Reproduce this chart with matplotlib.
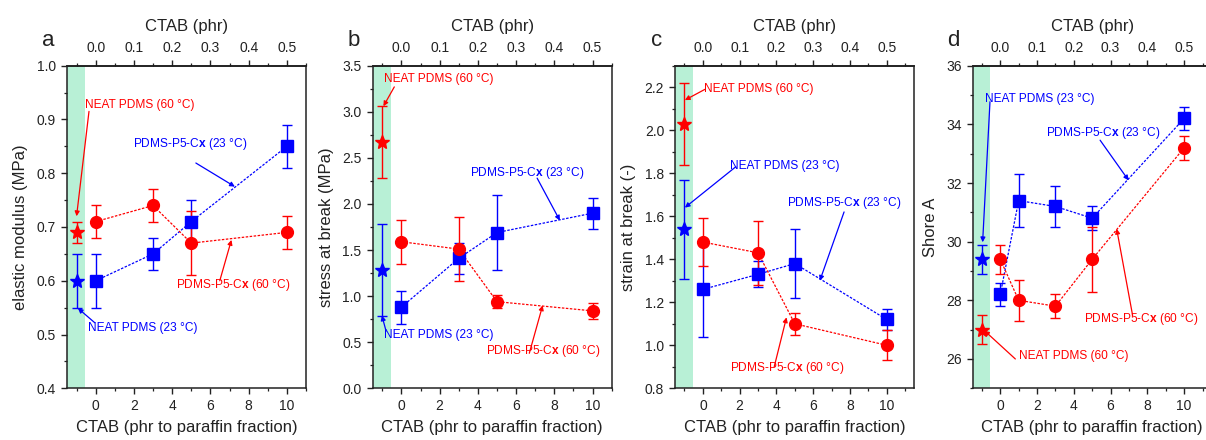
import matplotlib
matplotlib.use("Agg")
import matplotlib.pyplot as plt
from matplotlib.ticker import MultipleLocator, FormatStrFormatter

plt.rcParams['font.family'] = ['Liberation Sans', 'DejaVu Sans']
plt.rcParams['mathtext.fontset'] = 'custom'
plt.rcParams['mathtext.rm'] = 'Liberation Sans'
plt.rcParams['mathtext.bf'] = 'Liberation Sans:bold'
plt.rcParams['mathtext.it'] = 'Liberation Sans:italic'

# ---------------- data ----------------
x4 = [0, 3, 5, 10]
x5 = [0, 1, 3, 5, 10]
x_neat = [-1]

# (a) elastic modulus
a_blue = [0.60, 0.65, 0.71, 0.85]
a_blue_err = [0.05, 0.03, 0.04, 0.04]
a_red = [0.71, 0.74, 0.67, 0.69]
a_red_err = [0.03, 0.03, 0.06, 0.03]
a_neat23, a_neat23_err = 0.60, 0.05
a_neat60, a_neat60_err = 0.69, 0.02

# (b) stress at break
b_blue = [0.88, 1.41, 1.69, 1.90]
b_blue_err = [0.18, 0.17, 0.41, 0.17]
b_red = [1.59, 1.51, 0.94, 0.84]
b_red_err = [0.24, 0.35, 0.07, 0.09]
b_neat23, b_neat23_err = 1.28, 0.50
b_neat60, b_neat60_err = 2.67, 0.39

# (c) strain at break
c_blue = [1.26, 1.33, 1.38, 1.12]
c_blue_err = [0.22, 0.06, 0.16, 0.05]
c_red = [1.48, 1.43, 1.10, 1.00]
c_red_err = [0.11, 0.15, 0.05, 0.07]
c_neat23, c_neat23_err = 1.54, 0.23
c_neat60, c_neat60_err = 2.03, 0.19

# (d) Shore A
d_blue = [28.2, 31.4, 31.2, 30.8, 34.2]
d_blue_err = [0.4, 0.9, 0.7, 0.4, 0.4]
d_red = [29.4, 28.0, 27.8, 29.4, 33.2]
d_red_err = [0.5, 0.7, 0.4, 1.1, 0.4]
d_neat23, d_neat23_err = 29.4, 0.5
d_neat60, d_neat60_err = 27.0, 0.5

BLUE = '#0000ff'
RED = '#ff0000'
GREEN = '#b8f0d6'
TXT = '#222222'

lbl23 = r'PDMS-P5-C$\mathbf{x}$ (23 °C)'
lbl60 = r'PDMS-P5-C$\mathbf{x}$ (60 °C)'
neat23 = 'NEAT PDMS (23 °C)'
neat60 = 'NEAT PDMS (60 °C)'

panels = [
    dict(letter='a', ylabel='elastic modulus (MPa)', ylim=(0.4, 1.0), ymaj=0.1, ymin=0.05,
         fmt='%.1f', xlim=(-1.5, 11.0), xb=x4, blue=a_blue, be=a_blue_err, red=a_red, re=a_red_err,
         n23=(a_neat23, a_neat23_err), n60=(a_neat60, a_neat60_err),
         ann=[(neat60, RED, (-0.55, 0.927), (-0.35, 0.915), (-1.0, 0.72)),
              (lbl23, BLUE, (1.95, 0.8535), (5.24, 0.819), (7.28, 0.775)),
              (lbl60, RED, (4.2, 0.592), (6.49, 0.600), (7.1, 0.676)),
              (neat23, BLUE, (-0.4, 0.512), (-0.05, 0.522), (-0.93, 0.549))]),
    dict(letter='b', ylabel='stress at break (MPa)', ylim=(0.0, 3.5), ymaj=0.5, ymin=0.25,
         fmt='%.1f', xlim=(-1.5, 11.0), xb=x4, blue=b_blue, be=b_blue_err, red=b_red, re=b_red_err,
         n23=(b_neat23, b_neat23_err), n60=(b_neat60, b_neat60_err),
         ann=[(neat60, RED, (-0.89, 3.356), (-0.37, 3.27), (-0.94, 3.06)),
              (lbl23, BLUE, (3.57, 2.336), (7.1, 2.28), (8.29, 1.82)),
              (lbl60, RED, (4.4, 0.41), (6.69, 0.38), (7.39, 0.90)),
              (neat23, BLUE, (-0.89, 0.577), (-0.8, 0.62), (-1.02, 0.79))]),
    dict(letter='c', ylabel='strain at break (-)', ylim=(0.8, 2.3), ymaj=0.2, ymin=0.1,
         fmt='%.1f', xlim=(-1.5, 11.5), xb=x4, blue=c_blue, be=c_blue_err, red=c_red, re=c_red_err,
         n23=(c_neat23, c_neat23_err), n60=(c_neat60, c_neat60_err),
         ann=[(neat60, RED, (0.07, 2.19), (0.11, 2.19), (-0.98, 2.14)),
              (neat23, BLUE, (1.47, 1.835), (1.79, 1.83), (-0.98, 1.64)),
              (lbl23, BLUE, (4.55, 1.66), (7.68, 1.62), (6.36, 1.30)),
              (lbl60, RED, (1.47, 0.895), (3.88, 0.90), (4.55, 1.13))]),
    dict(letter='d', ylabel='Shore A', ylim=(25, 36), ymaj=2, ymin=1,
         fmt='%d', xlim=(-1.5, 11.5), xb=x5, blue=d_blue, be=d_blue_err, red=d_red, re=d_red_err,
         n23=(d_neat23, d_neat23_err), n60=(d_neat60, d_neat60_err),
         ann=[(neat23, BLUE, (-0.82, 34.87), (-0.56, 34.77), (-0.96, 29.98)),
              (lbl23, BLUE, (2.49, 33.72), (5.43, 33.46), (6.98, 32.09)),
              (lbl60, RED, (4.58, 27.36), (7.2, 27.48), (6.33, 30.44)),
              (neat60, RED, (1.03, 26.1), (0.82, 26.0), (-0.87, 26.97))]),
]

W, H = 1206, 440
fig = plt.figure(figsize=(W / 100, H / 100), dpi=100)

lefts = [67, 372.7, 675.3, 972.7]
ax_w = 239
top_px, bot_px = 65.7, 388.3

for p, lpx in zip(panels, lefts):
    ax = fig.add_axes([lpx / W, 1 - bot_px / H, ax_w / W, (bot_px - top_px) / H])
    ax.set_xlim(*p['xlim'])
    ax.set_ylim(*p['ylim'])
    ax.axvspan(p['xlim'][0], -0.55, color=GREEN, lw=0, zorder=0)

    ls = (0, (2, 1.2))
    ax.plot(p['xb'], p['blue'], color=BLUE, lw=0.9, ls=ls, zorder=2)
    ax.plot(p['xb'], p['red'], color=RED, lw=0.9, ls=ls, zorder=2)
    ax.errorbar(p['xb'], p['blue'], yerr=p['be'], fmt='s', color=BLUE, ms=8, capsize=3.5,
                elinewidth=1.0, capthick=1.0, zorder=3)
    ax.errorbar(p['xb'], p['red'], yerr=p['re'], fmt='o', color=RED, ms=8.5, capsize=3.5,
                elinewidth=1.0, capthick=1.0, zorder=3)
    ax.errorbar(x_neat, [p['n23'][0]], yerr=[p['n23'][1]], fmt='*', color=BLUE, ms=10,
                capsize=3.5, elinewidth=1.0, capthick=1.0, zorder=3)
    ax.errorbar(x_neat, [p['n60'][0]], yerr=[p['n60'][1]], fmt='*', color=RED, ms=10,
                capsize=3.5, elinewidth=1.0, capthick=1.0, zorder=3)

    for txt, col, tpos, start, tip in p['ann']:
        ax.text(tpos[0], tpos[1], txt, color=col, fontsize=8.6, ha='left', va='center', zorder=5)
        ax.annotate('', xy=tip, xytext=start,
                    arrowprops=dict(arrowstyle='-|>', color=col, lw=0.9, mutation_scale=7,
                                    shrinkA=0, shrinkB=0), zorder=5)

    ax.xaxis.set_major_locator(MultipleLocator(2))
    ax.xaxis.set_minor_locator(MultipleLocator(1))
    ax.yaxis.set_major_locator(MultipleLocator(p['ymaj']))
    ax.yaxis.set_minor_locator(MultipleLocator(p['ymin']))
    ax.yaxis.set_major_formatter(FormatStrFormatter(p['fmt']))
    ax.tick_params(which='major', direction='out', length=4.5, width=1.0, labelsize=10,
                   colors='#222222', labelcolor=TXT)
    ax.tick_params(which='minor', direction='out', length=2.5, width=0.9, colors='#222222')
    ax.tick_params(axis='x', which='both', top=False)
    ax.tick_params(axis='y', which='both', right=False)
    ax.set_xticks([0, 2, 4, 6, 8, 10])
    for s in ax.spines.values():
        s.set_linewidth(1.1)
        s.set_color('#222222')

    ax.set_xlabel('CTAB (phr to paraffin fraction)', fontsize=12, color=TXT, labelpad=5)
    ax.set_ylabel(p['ylabel'], fontsize=12, color=TXT, labelpad=6)

    sec = ax.secondary_xaxis('top', functions=(lambda v: v / 20, lambda v: v * 20))
    sec.set_xticks([0.0, 0.1, 0.2, 0.3, 0.4, 0.5])
    sec.xaxis.set_minor_locator(MultipleLocator(0.05))
    sec.xaxis.set_major_formatter(FormatStrFormatter('%.1f'))
    sec.tick_params(which='major', direction='out', length=4.5, width=1.0, labelsize=10,
                    colors='#222222', labelcolor=TXT)
    sec.tick_params(which='minor', direction='out', length=2.5, width=0.9, colors='#222222')
    sec.spines['top'].set_linewidth(1.1)
    sec.set_xlabel('CTAB (phr)', fontsize=12, color=TXT, labelpad=7)

    fig.text((lpx - 19) / W, 1 - 40 / H, p['letter'], fontsize=16, color=TXT,
             ha='center', va='center')

fig.savefig('out.png', dpi=100)
